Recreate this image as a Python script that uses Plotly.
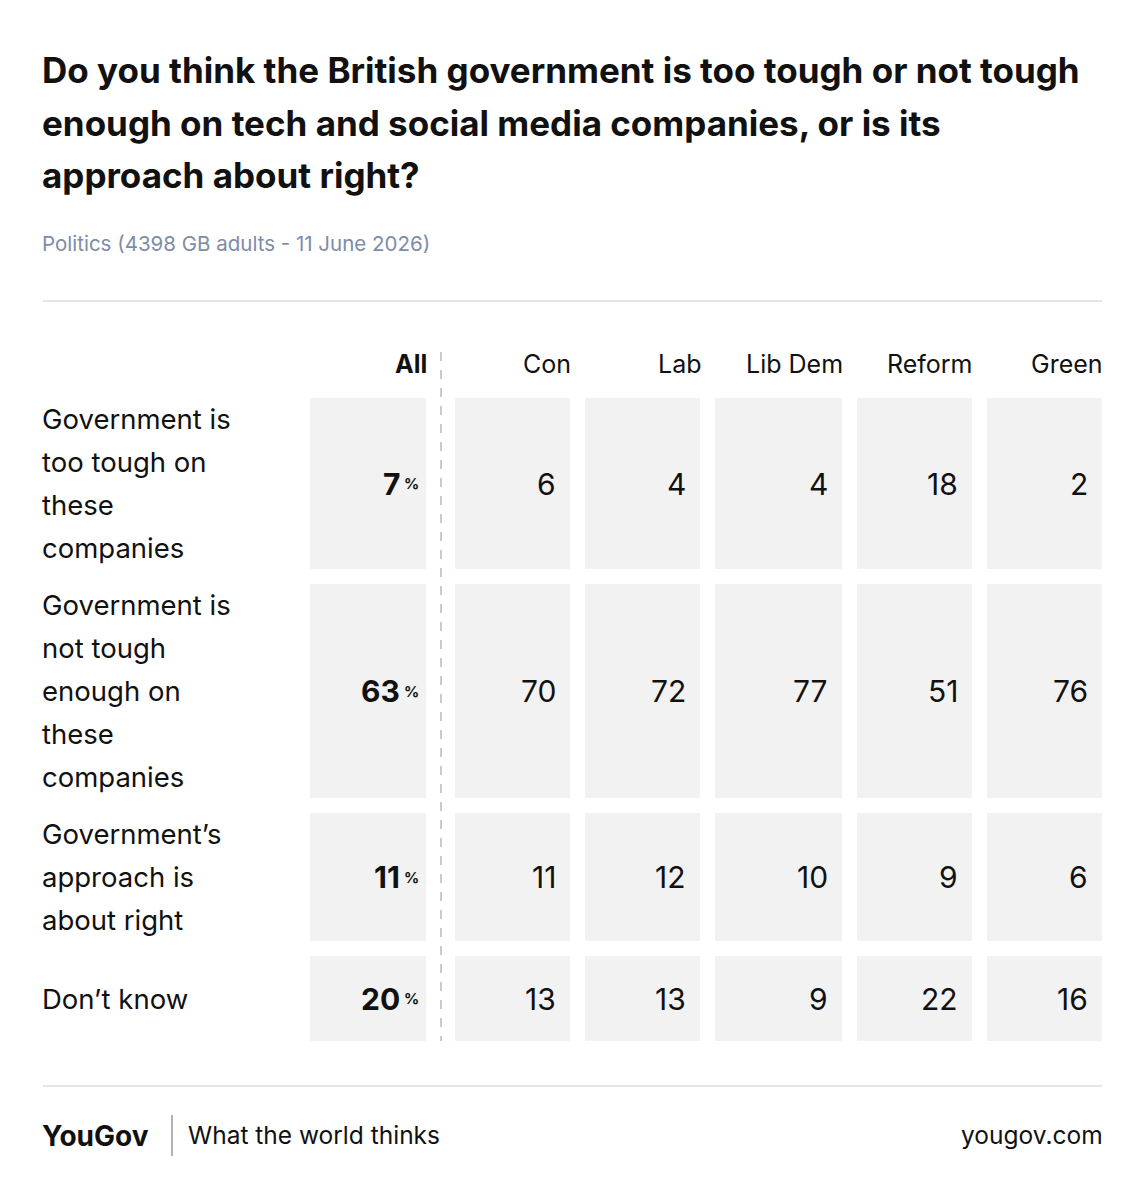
import plotly.graph_objects as go

title_lines = [
    "Do you think the British government is too tough or not tough",
    "enough on tech and social media companies, or is its",
    "approach about right?",
]
subtitle = "Politics (4398 GB adults - 11 June 2026)"
columns = ["All", "Con", "Lab", "Lib Dem", "Reform", "Green"]
row_labels = [
    ["Government is", "too tough on", "these", "companies"],
    ["Government is", "not tough", "enough on", "these", "companies"],
    ["Government’s", "approach is", "about right"],
    ["Don’t know"],
]
all_vals = [7, 63, 11, 20]
con = [6, 70, 11, 13]
lab = [4, 72, 12, 13]
libdem = [4, 77, 10, 9]
reform = [18, 51, 9, 22]
green = [2, 76, 6, 16]

# layout geometry (pixels)
col_edges = [(310, 426), (455, 570), (585, 700), (715, 842), (857, 972), (987, 1102)]
row_edges = [(398, 569), (584, 798), (813, 941), (956, 1041)]
FONT = "Inter, Roboto, sans-serif"
CELL = "#f2f2f2"
OFF = 8  # page body margin
LX = 40  # left text anchor (annotation padding compensated)
RX = 3   # right text padding compensation

fig = go.Figure()
shapes = []
ann = []

for i, line in enumerate(title_lines):
    ann.append(dict(x=LX, y=70 + i * 52.5, text="<b>" + line + "</b>", xanchor="left", yanchor="middle",
                    font=dict(size=35, color="#111", family=FONT)))
ann.append(dict(x=LX, y=243, text=subtitle, xanchor="left", yanchor="middle",
                font=dict(size=20.5, color="#7d8ca8", family=FONT)))
for y in (301, 1086):
    shapes.append(dict(type="line", x0=43, x1=1102, y0=y, y1=y, line=dict(color="#dddddd", width=1.5)))

for i, c in enumerate(columns):
    ann.append(dict(x=col_edges[i][1] + RX, y=364, text=("<b>%s</b>" % c) if i == 0 else c,
                    xanchor="right", yanchor="middle", font=dict(size=25, color="#111", family=FONT)))
shapes.append(dict(type="line", x0=441, x1=441, y0=352, y1=1041,
                   line=dict(color="#bbbbbb", width=1.5, dash="dash")))

series = [all_vals, con, lab, libdem, reform, green]
for r, (y0, y1) in enumerate(row_edges):
    ym = (y0 + y1) / 2
    lines = row_labels[r]
    for k, line in enumerate(lines):
        ann.append(dict(x=LX, y=ym + (k - (len(lines) - 1) / 2) * 43, text=line, xanchor="left",
                        yanchor="middle", font=dict(size=27.5, color="#111", family=FONT)))
    for c, (x0, x1) in enumerate(col_edges):
        shapes.append(dict(type="rect", x0=x0, x1=x1, y0=y0, y1=y1, fillcolor=CELL,
                           line=dict(width=0), layer="below"))
        v = series[c][r]
        if c == 0:
            ann.append(dict(x=x1 - 24, y=ym, text="<b>%d</b>" % v, xanchor="right", yanchor="middle",
                            font=dict(size=30, color="#111", family=FONT)))
            ann.append(dict(x=x1 - 5, y=ym, text="<b>%</b>", xanchor="right", yanchor="middle",
                            font=dict(size=15, color="#111", family=FONT)))
        else:
            ann.append(dict(x=x1 - 12, y=ym, text=str(v), xanchor="right", yanchor="middle",
                            font=dict(size=30, color="#111", family=FONT)))

ann.append(dict(x=LX, y=1136, text="<b>YouGov</b>", xanchor="left", yanchor="middle",
                font=dict(size=28, color="#111", family=FONT)))
shapes.append(dict(type="line", x0=172, x1=172, y0=1115, y1=1156, line=dict(color="#999", width=1.5)))
ann.append(dict(x=186, y=1135, text="What the world thinks", xanchor="left", yanchor="middle",
                font=dict(size=24.5, color="#111", family=FONT)))
ann.append(dict(x=1102 + RX, y=1135, text="yougov.com", xanchor="right", yanchor="middle",
                font=dict(size=24.5, color="#111", family=FONT)))

for a in ann:
    a.update(xref="x", yref="y", showarrow=False)

fig.update_layout(
    width=1146, height=1200, margin=dict(l=0, r=0, t=0, b=0),
    paper_bgcolor="white", plot_bgcolor="white",
    xaxis=dict(range=[OFF, 1146 + OFF], visible=False, fixedrange=True),
    yaxis=dict(range=[1200 + OFF, OFF], visible=False, fixedrange=True),
    shapes=shapes, annotations=ann, showlegend=False,
)
fig.write_html("out.html")
